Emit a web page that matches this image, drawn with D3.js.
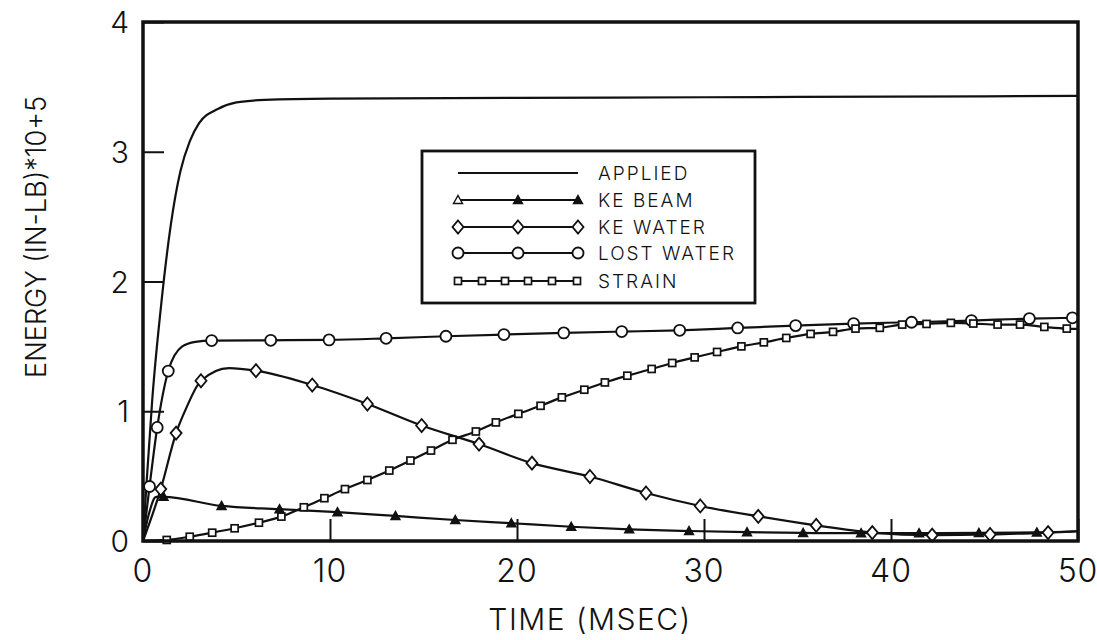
<!DOCTYPE html>
<html>
<head>
<meta charset="utf-8">
<script src="https://cdn.jsdelivr.net/npm/d3@7"></script>
<style>
  html, body { margin: 0; padding: 0; background: #fff; }
  svg text { font-family: "Inter", "DejaVu Sans", sans-serif; font-weight: 300; fill: #111; }
</style>
</head>
<body>
<svg id="chart" width="1097" height="640"></svg>
<script>
// Energy histories, time in msec, energy in (in-lb) x 10^5
const xTickValues = [0, 10, 20, 30, 40, 50];
const yTickValues = [0, 1, 2, 3, 4];
const seriesNames = ["APPLIED", "KE BEAM", "KE WATER", "LOST WATER", "STRAIN"];

// applied energy (no symbols)
const appliedPoints = [[0, 0], [0.2, 0.47], [0.5, 1.1], [1.0, 1.86], [1.5, 2.45], [2.0, 2.85],
  [2.5, 3.08], [3.0, 3.22], [4.0, 3.33], [5.0, 3.38], [6.5, 3.40], [10, 3.41], [20, 3.415],
  [30, 3.42], [40, 3.425], [50, 3.43]];

// beam kinetic energy
const keBeamSymbols = [[1.1, 0.34], [4.2, 0.27], [7.3, 0.245], [10.4, 0.222], [13.5, 0.193],
  [16.7, 0.162], [19.7, 0.137], [22.9, 0.11], [26.0, 0.09], [29.2, 0.077], [32.3, 0.068],
  [35.3, 0.062], [38.4, 0.06], [41.5, 0.06], [44.7, 0.062], [47.8, 0.066]];
const keBeamExtra = [[0, 0], [0.3, 0.2], [0.7, 0.34], [50, 0.075]];

// water kinetic energy
const keWaterSymbols = [[0.95, 0.4], [1.77, 0.832], [3.1, 1.235], [6.04, 1.313], [9.05, 1.202],
  [12.0, 1.056], [14.9, 0.89], [17.97, 0.747], [20.8, 0.6], [23.9, 0.497], [26.9, 0.37],
  [29.8, 0.27], [32.9, 0.19], [36.0, 0.12], [39.0, 0.065], [42.2, 0.045], [45.3, 0.05],
  [48.4, 0.065]];
const keWaterExtra = [[0, 0], [2.3, 1.02], [4.6, 1.333], [50, 0.075]];

// energy lost to the water
const lostWaterSymbols = [[0.35, 0.42], [0.76, 0.875], [1.35, 1.31], [3.67, 1.545], [6.83, 1.547],
  [9.95, 1.55], [13.0, 1.562], [16.2, 1.578], [19.3, 1.591], [22.5, 1.604], [25.6, 1.614],
  [28.7, 1.624], [31.8, 1.642], [34.9, 1.66], [38.0, 1.676], [41.1, 1.686], [44.3, 1.699],
  [47.4, 1.714], [49.7, 1.72]];
const lostWaterExtra = [[0, 0], [2.1, 1.5], [2.8, 1.535]];

// strain energy
const strainSymbols = [[1.27, 0.008], [2.5, 0.033], [3.7, 0.064], [4.9, 0.098], [6.2, 0.141],
  [7.4, 0.188], [8.6, 0.26], [9.7, 0.33], [10.8, 0.4], [12.0, 0.47], [13.17, 0.543],
  [14.3, 0.62], [15.4, 0.697], [16.55, 0.78], [17.8, 0.844], [18.87, 0.914], [20.07, 0.98],
  [21.26, 1.042], [22.4, 1.107], [23.6, 1.166], [24.7, 1.222], [25.9, 1.274], [27.2, 1.326],
  [28.3, 1.372], [29.5, 1.415], [30.7, 1.457], [32.0, 1.5], [33.2, 1.531], [34.4, 1.565],
  [35.7, 1.596], [36.9, 1.612], [38.1, 1.637], [39.4, 1.643], [40.6, 1.668], [41.9, 1.673],
  [43.2, 1.681], [44.4, 1.676], [45.7, 1.668], [46.9, 1.668], [48.2, 1.65], [49.4, 1.637]];
const strainExtra = [[0, 0], [50, 1.635]];

const svg = d3.select("#chart");
const plotLeft = 143, plotRight = 1078, plotTop = 22, plotBottom = 541;

const x = d3.scaleLinear().domain([0, 50]).range([plotLeft, plotRight]);
const y = d3.scaleLinear().domain([0, 4]).range([plotBottom, plotTop]);

const line = d3.line().x(d => x(d[0])).y(d => y(d[1])).curve(d3.curveMonotoneX);
const merged = (a, b) => a.concat(b).sort((p, q) => p[0] - q[0]);

// symbol drawers
const sym = {
  triangle: (g, px, py, open) => g.append("path").attr("d", "M0,-4.5L4.5,3.5L-4.5,3.5Z")
      .attr("transform", `translate(${px},${py})`).attr("fill", open ? "#fff" : "#111")
      .attr("stroke", "#111").attr("stroke-width", 1.4),
  diamond: (g, px, py) => g.append("path").attr("d", "M0,-6.5L5.5,0L0,6.5L-5.5,0Z")
      .attr("transform", `translate(${px},${py})`).attr("fill", "#fff").attr("stroke", "#111").attr("stroke-width", 1.8),
  circle: (g, px, py) => g.append("circle").attr("cx", px).attr("cy", py).attr("r", 5.5)
      .attr("fill", "#fff").attr("stroke", "#111").attr("stroke-width", 1.8),
  square: (g, px, py) => g.append("rect").attr("x", px - 3.5).attr("y", py - 3.5).attr("width", 7).attr("height", 7)
      .attr("fill", "#fff").attr("stroke", "#111").attr("stroke-width", 1.7)
};

const series = [
  { name: seriesNames[0], pts: appliedPoints, marks: [], shape: null },
  { name: seriesNames[1], pts: merged(keBeamSymbols, keBeamExtra), marks: keBeamSymbols, shape: "triangle" },
  { name: seriesNames[2], pts: merged(keWaterSymbols, keWaterExtra), marks: keWaterSymbols, shape: "diamond" },
  { name: seriesNames[3], pts: merged(lostWaterSymbols, lostWaterExtra), marks: lostWaterSymbols, shape: "circle" },
  { name: seriesNames[4], pts: merged(strainSymbols, strainExtra), marks: strainSymbols, shape: "square" }
];

// curves
const curves = svg.append("g");
series.forEach(s => {
  curves.append("path").attr("d", line(s.pts)).attr("fill", "none")
    .attr("stroke", "#111").attr("stroke-width", 2.2);
});
series.forEach(s => {
  if (!s.shape) return;
  const g = svg.append("g");
  s.marks.forEach(p => sym[s.shape](g, x(p[0]), y(p[1])));
});

// frame
svg.append("rect").attr("x", plotLeft).attr("y", plotTop)
  .attr("width", plotRight - plotLeft).attr("height", plotBottom - plotTop)
  .attr("fill", "none").attr("stroke", "#111").attr("stroke-width", 3.5);

// axes with inward ticks
const xAxis = d3.axisTop(x).tickValues(xTickValues).tickSize(22).tickFormat("");
const gx = svg.append("g").attr("transform", `translate(0,${plotBottom})`).call(xAxis);
gx.select(".domain").remove();
gx.selectAll("line").attr("stroke", "#111").attr("stroke-width", 2);

const yAxis = d3.axisRight(y).tickValues(yTickValues).tickSize(21).tickFormat("");
const gy = svg.append("g").attr("transform", `translate(${plotLeft},0)`).call(yAxis);
gy.select(".domain").remove();
gy.selectAll("line").attr("stroke", "#111").attr("stroke-width", 2);

// tick labels
svg.append("g").selectAll("text").data(xTickValues).join("text")
  .attr("x", d => x(d)).attr("y", plotBottom + 41).attr("text-anchor", "middle")
  .attr("font-size", 32).attr("letter-spacing", 1).text(d => d);
svg.append("g").selectAll("text").data(yTickValues).join("text")
  .attr("x", plotLeft - 14).attr("y", d => y(d) + 11).attr("text-anchor", "end")
  .attr("font-size", 30).text(d => d);

// axis titles
svg.append("text").attr("x", 590).attr("y", 630)
  .attr("text-anchor", "middle").attr("font-size", 30).attr("letter-spacing", 1.5).text("TIME (MSEC)");
svg.append("text").attr("transform", `translate(46,237) rotate(-90)`)
  .attr("text-anchor", "middle").attr("font-size", 28)
  .attr("textLength", 282).attr("lengthAdjust", "spacingAndGlyphs").text("ENERGY (IN-LB)*10+5");

// legend
const leg = svg.append("g");
leg.append("rect").attr("x", 422).attr("y", 151).attr("width", 333).attr("height", 152)
  .attr("fill", "#fff").attr("stroke", "#111").attr("stroke-width", 2.8);
const rowY = [173, 200, 227, 253, 281];
const legendSymbolX = { triangle: [458, 518, 578], diamond: [458, 518, 578], circle: [458, 518, 578],
  square: [458, 482, 505, 528, 552, 577] };
series.forEach((s, i) => {
  leg.append("line").attr("x1", 458).attr("x2", 578).attr("y1", rowY[i]).attr("y2", rowY[i])
    .attr("stroke", "#111").attr("stroke-width", 2);
  if (s.shape) legendSymbolX[s.shape].forEach((px, k) => sym[s.shape](leg, px, rowY[i], s.shape === "triangle" && k === 0));
  leg.append("text").attr("x", 598).attr("y", rowY[i] + 7).attr("font-size", 19)
    .attr("letter-spacing", 2).text(s.name);
});
</script>
</body>
</html>
